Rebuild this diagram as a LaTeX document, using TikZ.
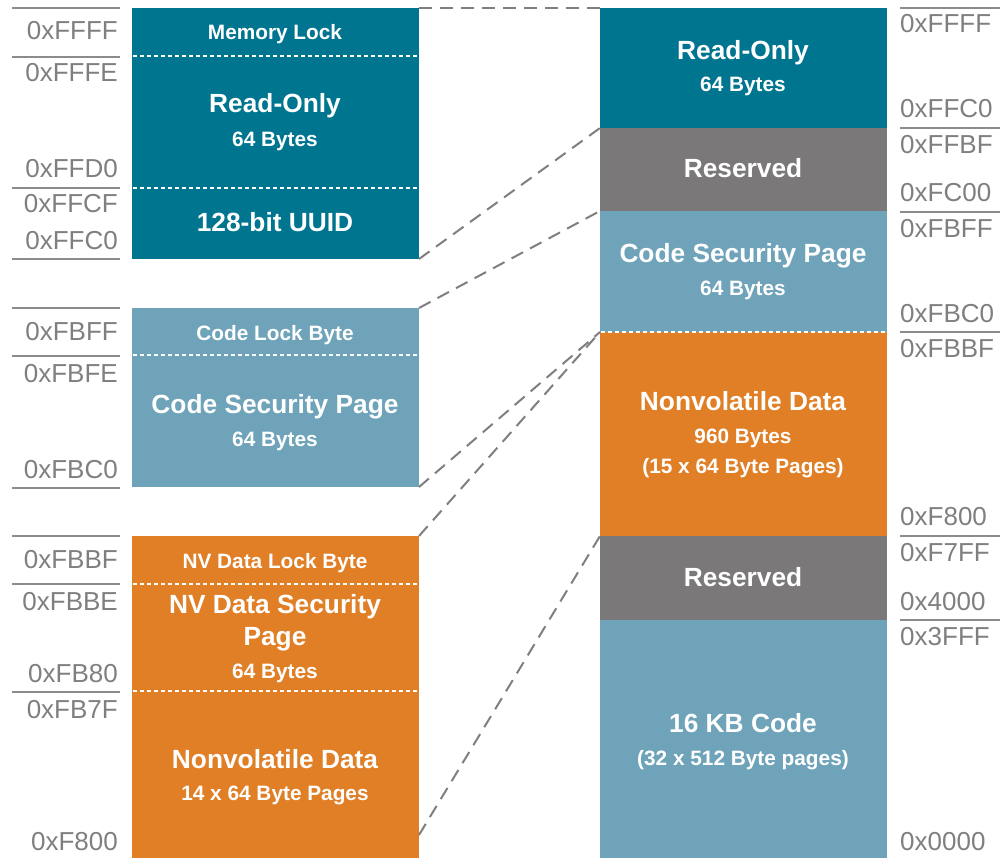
\documentclass[tikz,border=0pt]{standalone}
\usepackage{fontspec}
\setmainfont{Liberation Sans}
\definecolor{darkteal}{HTML}{007590}
\definecolor{lightblue}{HTML}{6FA3B9}
\definecolor{nvorange}{HTML}{E07F26}
\definecolor{resgray}{HTML}{7B7879}
\definecolor{labelgray}{HTML}{7F7F7F}
\definecolor{linegray}{HTML}{8C8C8C}
\definecolor{conngray}{HTML}{7F7F7F}
\begin{document}
\begin{tikzpicture}[x=1pt,y=-1pt,
  blk/.style={anchor=north west, inner sep=0pt, outer sep=0pt, minimum width=287pt},
  ttl/.style={text=white, font=\bfseries\fontsize{26.3}{30}\selectfont, anchor=base, inner sep=0pt},
  sub/.style={text=white, font=\bfseries\fontsize{20.8}{24}\selectfont, anchor=base, inner sep=0pt},
  lbl/.style={text=labelgray, font=\fontsize{26}{30}\selectfont, inner sep=0pt},
  lline/.style={draw=linegray, line width=2pt},
  dotl/.style={draw=white, line width=2pt, dash pattern=on 4pt off 3pt},
  conn/.style={draw=conngray, line width=2pt, dash pattern=on 13pt off 8pt}]
\useasboundingbox (0,0) rectangle (1000,858);

% left blocks
\node[blk, fill=darkteal, minimum height=251pt] (L1) at (132,8) {};
\node[blk, fill=lightblue, minimum height=179pt] (L2) at (132,308) {};
\node[blk, fill=nvorange, minimum height=322pt] (L3) at (132,536) {};

% right blocks
\node[blk, fill=darkteal, minimum height=120pt] (R1) at (600,8) {};
\node[blk, fill=resgray, minimum height=83pt] (R2) at (600,128) {};
\node[blk, fill=lightblue, minimum height=121pt] (R3) at (600,211) {};
\node[blk, fill=nvorange, minimum height=204pt] (R4) at (600,332) {};
\node[blk, fill=resgray, minimum height=84pt] (R5) at (600,536) {};
\node[blk, fill=lightblue, minimum height=238pt] (R6) at (600,620) {};

% dotted dividers
\draw[dotl] (133,56) -- (419,56);
\draw[dotl] (133,188) -- (419,188);
\draw[dotl] (133,355) -- (419,355);
\draw[dotl] (133,584) -- (419,584);
\draw[dotl] (133,691) -- (419,691);
\draw[dotl] (601,332) -- (887,332);

% left block texts
\node[sub] (t1) at (275,40) {Memory Lock};
\node[ttl] (t2) at (275,113) {Read-Only};
\node[sub] (t3) at (275,147) {64 Bytes};
\node[ttl] (t4) at (275,232) {128-bit UUID};
\node[sub] (t5) at (275,340) {Code Lock Byte};
\node[ttl] (t6) at (275,413) {Code Security Page};
\node[sub] (t7) at (275,446) {64 Bytes};
\node[sub] (t8) at (275,568) {NV Data Lock Byte};
\node[ttl] (t9) at (275,613) {NV Data Security};
\node[ttl] (t10) at (275,645) {Page};
\node[sub] (t11) at (275,678) {64 Bytes};
\node[ttl] (t12) at (275,768) {Nonvolatile Data};
\node[sub] (t13) at (275,800) {14 x 64 Byte Pages};

% right block texts
\node[ttl] (r1) at (743,60) {Read-Only};
\node[sub] (r2) at (743,92) {64 Bytes};
\node[ttl] (r3) at (743,178) {Reserved};
\node[ttl] (r4) at (743,263) {Code Security Page};
\node[sub] (r5) at (743,295) {64 Bytes};
\node[ttl] (r6) at (743,410) {Nonvolatile Data};
\node[sub] (r7) at (743,443) {960 Bytes};
\node[sub] (r8) at (743,473) {(15 x 64 Byte Pages)};
\node[ttl] (r9) at (743,586) {Reserved};
\node[ttl] (r10) at (743,732) {16 KB Code};
\node[sub] (r11) at (743,765) {(32 x 512 Byte pages)};

% left address lines
\foreach \yy in {8,57,188,259,308,356,488,536,584,692}
  \draw[lline] (12,\yy) -- (120,\yy);
% right address lines
\foreach \yy in {8,128,212,332,536,620}
  \draw[lline] (900,\yy) -- (1000,\yy);

% left address labels
\node[lbl, anchor=base east] (a1) at (118,40) {0xFFFF};
\node[lbl, anchor=base east] (a2) at (118,82) {0xFFFE};
\node[lbl, anchor=base east] (a3) at (118,178) {0xFFD0};
\node[lbl, anchor=base east] (a4) at (118,213) {0xFFCF};
\node[lbl, anchor=base east] (a5) at (118,250) {0xFFC0};
\node[lbl, anchor=base east] (a6) at (118,340) {0xFBFF};
\node[lbl, anchor=base east] (a7) at (118,382) {0xFBFE};
\node[lbl, anchor=base east] (a8) at (118,478) {0xFBC0};
\node[lbl, anchor=base east] (a9) at (118,568) {0xFBBF};
\node[lbl, anchor=base east] (a10) at (118,610) {0xFBBE};
\node[lbl, anchor=base east] (a11) at (118,682) {0xFB80};
\node[lbl, anchor=base east] (a12) at (118,718) {0xFB7F};
\node[lbl, anchor=base east] (a13) at (118,850) {0xF800};

% right address labels
\node[lbl, anchor=base west] (b1) at (900,33) {0xFFFF};
\node[lbl, anchor=base west] (b2) at (900,118) {0xFFC0};
\node[lbl, anchor=base west] (b3) at (900,154) {0xFFBF};
\node[lbl, anchor=base west] (b4) at (900,202) {0xFC00};
\node[lbl, anchor=base west] (b5) at (900,238) {0xFBFF};
\node[lbl, anchor=base west] (b6) at (900,322) {0xFBC0};
\node[lbl, anchor=base west] (b7) at (900,357) {0xFBBF};
\node[lbl, anchor=base west] (b8) at (900,525) {0xF800};
\node[lbl, anchor=base west] (b9) at (900,561) {0xF7FF};
\node[lbl, anchor=base west] (b10) at (900,610) {0x4000};
\node[lbl, anchor=base west] (b11) at (900,645) {0x3FFF};
\node[lbl, anchor=base west] (b12) at (900,850) {0x0000};

% dashed connectors
\coordinate (c6) at (419,835);
\draw[conn] (L1.north east) -- (R1.north west);
\draw[conn] (L1.south east) -- (R1.south west);
\draw[conn] (L2.north east) -- (R3.north west);
\draw[conn] (L2.south east) -- (R3.south west);
\draw[conn] (L3.north east) -- (R4.north west);
\draw[conn] (c6) -- (R4.south west);
\end{tikzpicture}
\end{document}
